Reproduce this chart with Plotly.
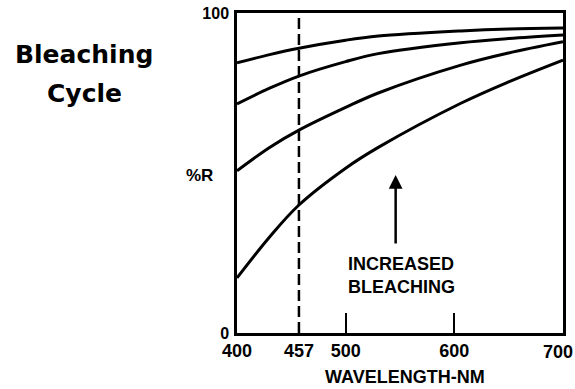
import plotly.graph_objects as go

# Data
wavelength = [400, 430, 457, 500, 530, 606, 650, 700]
curve_1 = [84.4, 87.0, 89.0, 91.5, 92.8, 94.4, 95.0, 95.3]
curve_2 = [71.6, 76.5, 80.3, 84.8, 87.3, 90.7, 92.0, 93.1]
curve_3 = [50.7, 58.0, 63.4, 70.5, 75.0, 83.7, 87.5, 91.0]
curve_4 = [17.2, 30.0, 40.0, 51.5, 58.0, 71.8, 78.5, 85.3]
series = [curve_1, curve_2, curve_3, curve_4]

x_tick_vals = [400, 457, 500, 600]
x_tick_text = ["400", "457", "500", "600"]
x_last_tick = 700
x_last_text = "700"
x_minor_ticks = [500, 600]
y_tick_vals = [0, 100]
y_tick_text = ["0", "100"]
marker_wavelength = 457
arrow_x = 546
arrow_tip = 49.4
arrow_tail = 27.5

BOLD = dict(family="Liberation Sans, Arial, sans-serif", color="black", weight="bold")

fig = go.Figure()
for s in series:
    fig.add_trace(go.Scatter(x=wavelength, y=s, mode="lines",
                             line=dict(color="black", width=3, shape="spline"),
                             showlegend=False, hoverinfo="skip"))

fig.add_shape(type="line", x0=marker_wavelength, x1=marker_wavelength, xref="x",
              y0=0, y1=1, yref="paper",
              line=dict(color="black", width=2.5, dash="11px,5px"))

fig.update_layout(
    width=575, height=389,
    margin=dict(l=237, r=12, t=13, b=56, autoexpand=False),
    paper_bgcolor="white", plot_bgcolor="white",
    xaxis=dict(range=[400, 700], tickvals=x_tick_vals, ticktext=x_tick_text,
               ticks="", showgrid=False, zeroline=False, showline=True, mirror=True,
               linecolor="black", linewidth=2.5, automargin=False,
               ticklabeloverflow="allow",
               tickfont=dict(size=18, **BOLD), ticklabelstandoff=0,
               minor=dict(tickvals=x_minor_ticks, ticks="inside", ticklen=20,
                          tickwidth=2, tickcolor="black")),
    yaxis=dict(range=[0, 100], tickvals=y_tick_vals, ticktext=y_tick_text,
               ticks="", showgrid=False, zeroline=False, showline=True, mirror=True,
               linecolor="black", linewidth=2.5, automargin=False,
               ticklabeloverflow="allow",
               tickfont=dict(size=16, **BOLD), ticklabelstandoff=2),
)

# last x tick label, kept inside the page edge
fig.add_annotation(text=x_last_text, xref="x", yref="paper", x=x_last_tick, y=0,
                   xanchor="right", yanchor="top", xshift=12, yshift=-7,
                   showarrow=False, font=dict(size=18, **BOLD))

TITLE_FONT = dict(family="DejaVu Sans, sans-serif", color="black", weight="bold", size=25)
fig.add_annotation(text="Bleaching", xref="paper", yref="paper",
                   x=(84 - 237) / 326, y=1 - (54 - 13) / 320,
                   showarrow=False, font=TITLE_FONT, xanchor="center", yanchor="middle")
fig.add_annotation(text="Cycle", xref="paper", yref="paper",
                   x=(84 - 237) / 326, y=1 - (93 - 13) / 320,
                   showarrow=False, font=TITLE_FONT, xanchor="center", yanchor="middle")

fig.add_annotation(text="%R", xref="paper", yref="paper",
                   x=(199 - 237) / 326, y=1 - (175 - 13) / 320,
                   showarrow=False, font=dict(size=17, **BOLD),
                   xanchor="center", yanchor="middle")

fig.add_annotation(text="WAVELENGTH-NM", xref="paper", yref="paper",
                   x=(405 - 237) / 326, y=1 - (377 - 13) / 320,
                   showarrow=False, font=dict(size=18, **BOLD),
                   xanchor="center", yanchor="middle")

fig.add_annotation(text="INCREASED<br>BLEACHING", xref="x", yref="y",
                   x=551, y=18.1, showarrow=False, font=dict(size=18, **BOLD),
                   xanchor="center", yanchor="middle", align="left")

fig.add_annotation(x=arrow_x, y=arrow_tip, ax=arrow_x, ay=arrow_tail,
                   xref="x", yref="y", axref="x", ayref="y", text="",
                   showarrow=True, arrowhead=2, arrowsize=1.1, arrowwidth=2.5,
                   arrowcolor="black")

fig.write_html("out.html", config={"displayModeBar": False},
               post_script="document.body.style.margin='0';document.body.style.overflow='hidden';")
